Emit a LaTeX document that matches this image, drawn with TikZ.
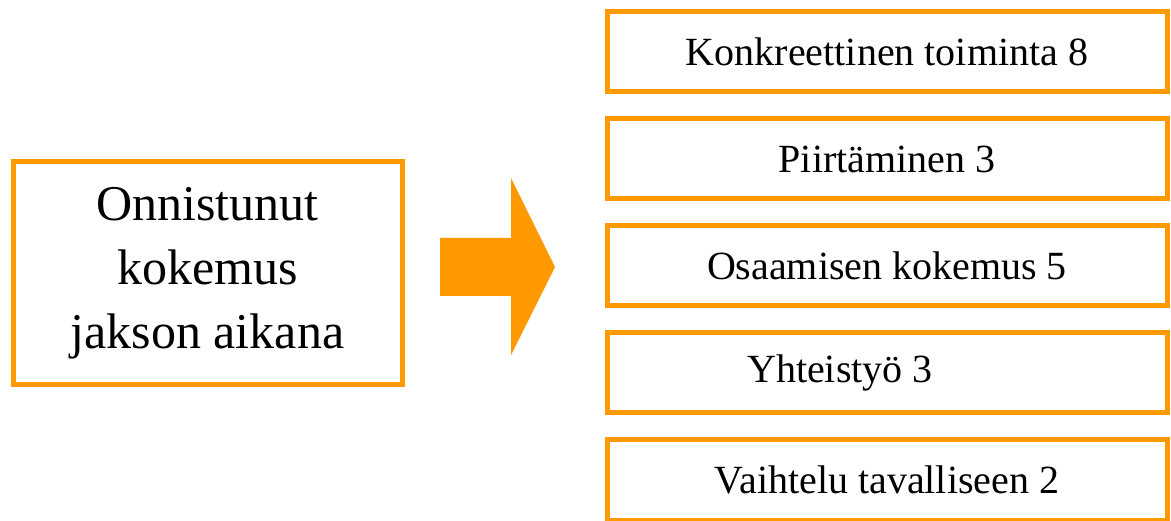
\documentclass[tikz,border=0pt]{standalone}
\usepackage{fontspec}
\setmainfont{Liberation Serif}
\usetikzlibrary{positioning}
\definecolor{boxorange}{RGB}{255,153,0}
\tikzset{
  frame/.style={draw=boxorange, line width=5pt, rectangle, inner sep=0pt, outer sep=0pt, align=center},
  item/.style={frame, minimum width=560pt, minimum height=80pt, font=\fontsize{40}{48}\selectfont},
}

\begin{document}
\begin{tikzpicture}[x=1pt, y=-1pt, node distance=27pt]
  \useasboundingbox (0,0) rectangle (1171,521);

  % Experience
  \node[frame, minimum width=389pt, minimum height=223pt, font=\fontsize{50}{64}\selectfont] (event) at (207.5,273.5) {Onnistunut\\kokemus\\jakson aikana};

  % Block arrow
  \fill[boxorange] (440,238) -- (511,238) -- (511,178) -- (555,267) -- (511,355) -- (511,296) -- (440,296) -- cycle;

  % Outcomes
  \node[item] (doing) at (887,52) {Konkreettinen toiminta 8};
  \node[item, below=of doing] (drawing) {Piirtäminen 3};
  \node[item, below=of drawing] (mastery) {Osaamisen kokemus 5};
  \node[item, below=of mastery] (teamwork) {Yhteistyö 3\hspace*{94pt}};
  \node[item, below=of teamwork] (change) {Vaihtelu tavalliseen 2};
\end{tikzpicture}
\end{document}
